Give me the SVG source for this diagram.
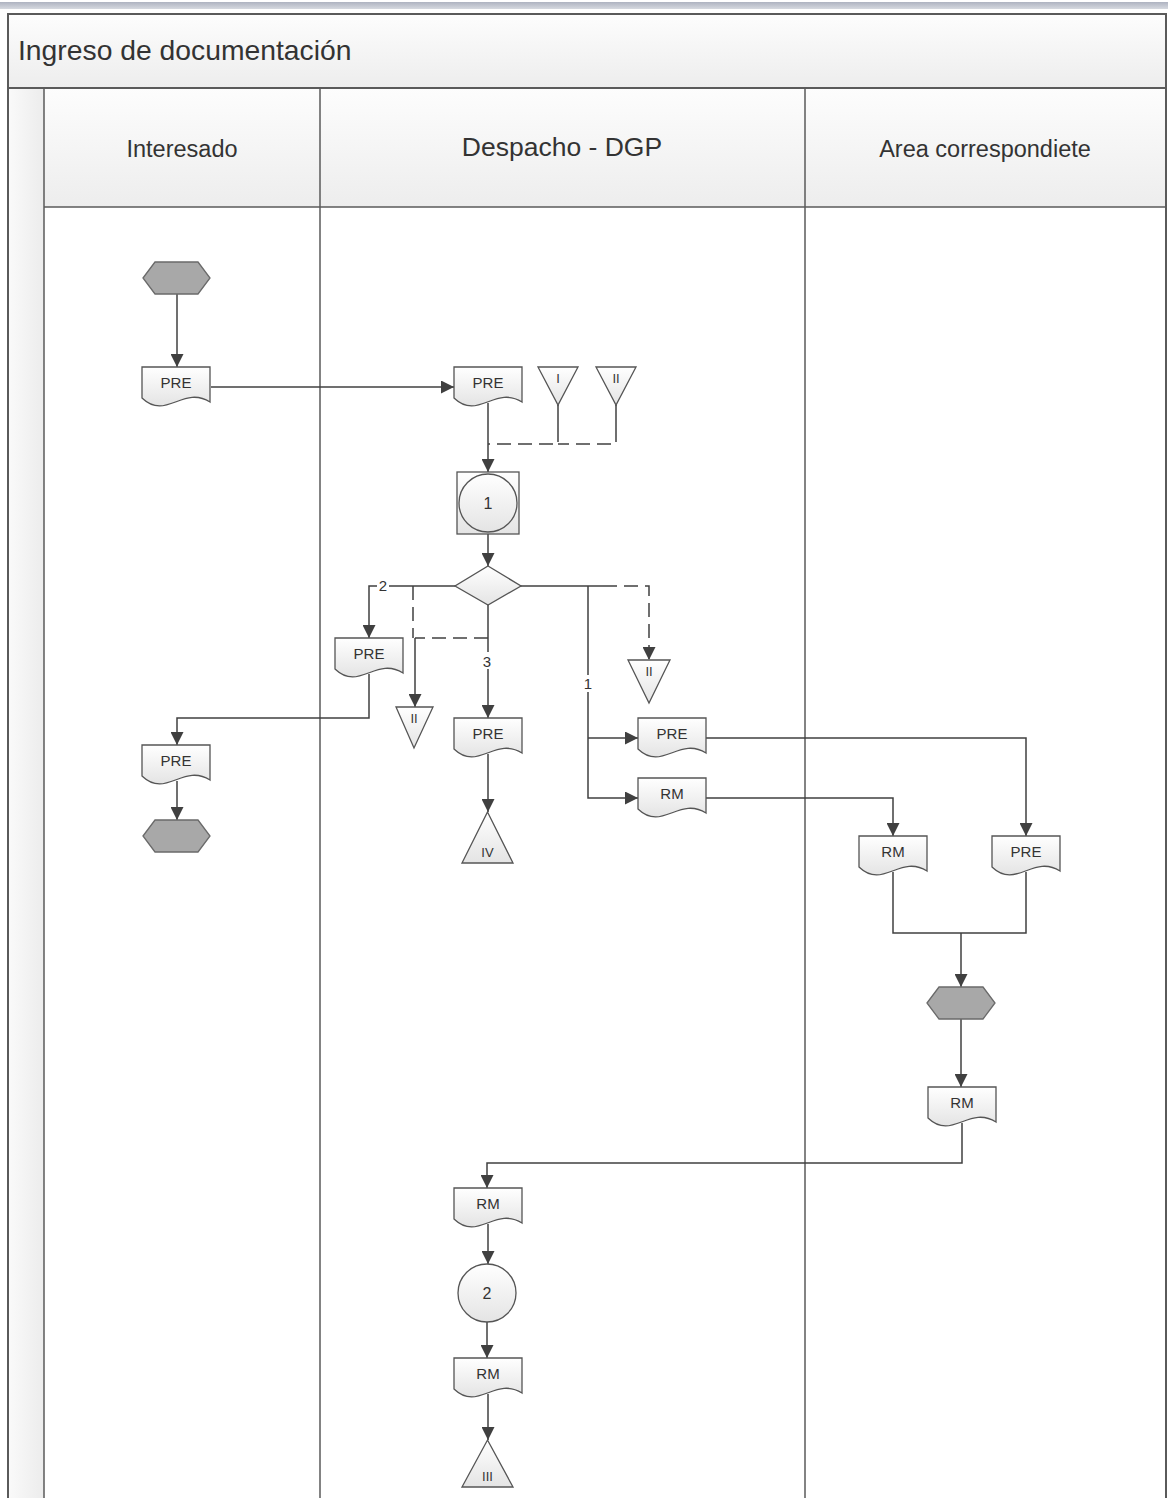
<svg xmlns="http://www.w3.org/2000/svg" xmlns:xlink="http://www.w3.org/1999/xlink" width="1168" height="1498" viewBox="0 0 1168 1498">
<style>
.frame{fill:none;stroke:#5a5a5a;stroke-width:2}
.ln{fill:none;stroke:#5a5a5a;stroke-width:1.5}
.c{fill:none;stroke:#404040;stroke-width:1.5}
.ca{fill:none;stroke:#404040;stroke-width:1.5;marker-end:url(#ah)}
.d{fill:none;stroke:#404040;stroke-width:1.5;stroke-dasharray:14,7}
.da{fill:none;stroke:#404040;stroke-width:1.5;stroke-dasharray:14,7;marker-end:url(#ah)}
.shape{fill:url(#gShape);stroke:#555;stroke-width:1.3}
.hex{fill:#a8a8a8;stroke:#6a6a6a;stroke-width:1.3}
.t{font-family:"Liberation Sans",Arial,sans-serif;fill:#333;text-anchor:middle}
.lbl{font-family:"Liberation Sans",Arial,sans-serif;fill:#333;text-anchor:middle;font-size:15px}
.doc{font-size:15px}
.tri{font-size:13px}
.bg{fill:#fff}
</style>
<defs>
<linearGradient id="gShape" x1="0" y1="0" x2="0" y2="1">
<stop offset="0" stop-color="#ffffff"/>
<stop offset="1" stop-color="#e4e4e4"/>
</linearGradient>
<linearGradient id="gHead" x1="0" y1="0" x2="0" y2="1">
<stop offset="0" stop-color="#fdfdfd"/>
<stop offset="1" stop-color="#ededed"/>
</linearGradient>
<linearGradient id="gStrip" x1="0" y1="0" x2="1" y2="0">
<stop offset="0" stop-color="#fafafa"/>
<stop offset="1" stop-color="#ececec"/>
</linearGradient>
<linearGradient id="gTop" x1="0" y1="0" x2="0" y2="1">
<stop offset="0" stop-color="#aeb3c0"/>
<stop offset="1" stop-color="#d6d9e0"/>
</linearGradient>
<marker id="ah" viewBox="0 0 12 12" refX="12" refY="6" markerWidth="13" markerHeight="13" markerUnits="userSpaceOnUse" orient="auto">
<path d="M0,0 L12,6 L0,12 Z" fill="#404040"/>
</marker>
<path id="docShape" d="M0,0 H68 V35 C41,18 24,54 0,31 Z"/>
</defs>

<rect x="0" y="0" width="1168" height="1498" fill="#ffffff"/>
<rect x="0" y="2" width="1168" height="7" fill="url(#gTop)"/>

<g id="pool">
<rect x="8" y="14" width="1158" height="74" fill="url(#gHead)"/>
<rect x="8" y="88" width="36" height="1412" fill="url(#gStrip)"/>
<rect x="44" y="88" width="1122" height="119" fill="url(#gHead)"/>
<rect x="8" y="14" width="1158" height="1490" class="frame"/>
<line x1="8" y1="88" x2="1166" y2="88" class="frame"/>
<line x1="44" y1="88" x2="44" y2="1498" class="ln"/>
<line x1="44" y1="207" x2="1166" y2="207" class="ln"/>
<line x1="320" y1="88" x2="320" y2="1498" class="ln"/>
<line x1="805" y1="88" x2="805" y2="1498" class="ln"/>
<text x="18" y="60" style="font-family:'Liberation Sans',Arial,sans-serif;font-size:28.3px;fill:#333">Ingreso de documentación</text>
<text class="t" x="182" y="157" font-size="23.5">Interesado</text>
<text class="t" x="562" y="156" font-size="26.5">Despacho - DGP</text>
<text class="t" x="985" y="157" font-size="23.5">Area correspondiete</text>
</g>

<g id="connectors">
<path class="ca" d="M177,294 V367"/>
<path class="ca" d="M211,387 H454"/>
<path class="ca" d="M488,403 V472"/>
<path class="d" d="M558,428 V444 H488"/>
<path class="d" d="M616,428 V444 H558"/>
<path class="ca" d="M488,534 V566"/>
<path class="ca" d="M455,586 H369 V638"/>
<path class="d" d="M413,586 V638"/>
<path class="d" d="M488,638 H415"/>
<path class="ca" d="M415,638 V707"/>
<path class="ca" d="M488,605 V718"/>
<path class="c" d="M520,586 H603"/>
<path class="da" d="M603,586 H649 V660"/>
<path class="ca" d="M588,586 V798 H638"/>
<path class="ca" d="M588,738 H638"/>
<path class="ca" d="M369,674 V718 H177 V745"/>
<path class="ca" d="M177,781 V820"/>
<path class="ca" d="M488,754 V812"/>
<path class="ca" d="M706,738 H1026 V836"/>
<path class="ca" d="M706,798 H893 V836"/>
<path class="c" d="M893,872 V933 H1026 V872"/>
<path class="ca" d="M961,933 V987"/>
<path class="ca" d="M961,1019 V1087"/>
<path class="ca" d="M962,1123 V1163 H487 V1188"/>
<path class="ca" d="M488,1224 V1264"/>
<path class="ca" d="M487,1322 V1358"/>
<path class="ca" d="M488,1394 V1440"/>
<rect class="bg" x="377" y="578" width="12" height="16"/>
<text class="lbl" x="383" y="591">2</text>
<rect class="bg" x="481" y="652" width="12" height="17"/>
<text class="lbl" x="487" y="667">3</text>
<rect class="bg" x="582" y="675" width="12" height="17"/>
<text class="lbl" x="588" y="689">1</text>
</g>

<g id="start">
<polygon class="hex" points="143,278 155,262 198,262 210,278 198,294 155,294"/>
</g>
<g id="doc-pre-1">
<use href="#docShape" x="142" y="367" class="shape"/>
<text class="t doc" x="176" y="388">PRE</text>
</g>
<g id="doc-pre-2">
<use href="#docShape" x="454" y="367" class="shape"/>
<text class="t doc" x="488" y="388">PRE</text>
</g>
<g id="tri-I">
<polygon class="shape" points="538,367 578,367 558,405"/>
<line class="c" x1="558" y1="405" x2="558" y2="428"/>
<text class="t tri" x="558" y="383">I</text>
</g>
<g id="tri-II-top">
<polygon class="shape" points="596,367 636,367 616,405"/>
<line class="c" x1="616" y1="405" x2="616" y2="428"/>
<text class="t tri" x="616" y="383">II</text>
</g>
<g id="op-1">
<rect class="shape" x="457" y="472" width="62" height="62"/>
<circle class="shape" cx="488" cy="503" r="29"/>
<text class="t" x="488" y="509" font-size="16">1</text>
</g>
<g id="decision">
<polygon class="shape" points="488,566 521,586 488,605 455,586"/>
</g>
<g id="doc-pre-3">
<use href="#docShape" x="335" y="638" class="shape"/>
<text class="t doc" x="369" y="659">PRE</text>
</g>
<g id="tri-II-left">
<polygon class="shape" points="396,707 433,707 414,748"/>
<text class="t tri" x="414" y="723">II</text>
</g>
<g id="tri-II-right">
<polygon class="shape" points="628,660 670,660 649,703"/>
<text class="t tri" x="649" y="676">II</text>
</g>
<g id="doc-pre-4">
<use href="#docShape" x="454" y="718" class="shape"/>
<text class="t doc" x="488" y="739">PRE</text>
</g>
<g id="tri-IV">
<polygon class="shape" points="487.5,812 513,863 462,863"/>
<text class="t tri" x="487.5" y="857">IV</text>
</g>
<g id="doc-pre-5">
<use href="#docShape" x="638" y="718" class="shape"/>
<text class="t doc" x="672" y="739">PRE</text>
</g>
<g id="doc-rm-1">
<use href="#docShape" x="638" y="778" class="shape"/>
<text class="t doc" x="672" y="799">RM</text>
</g>
<g id="doc-pre-6">
<use href="#docShape" x="142" y="745" class="shape"/>
<text class="t doc" x="176" y="766">PRE</text>
</g>
<g id="end-1">
<polygon class="hex" points="143,836 155,820 198,820 210,836 198,852 155,852"/>
</g>
<g id="doc-rm-2">
<use href="#docShape" x="859" y="836" class="shape"/>
<text class="t doc" x="893" y="857">RM</text>
</g>
<g id="doc-pre-7">
<use href="#docShape" x="992" y="836" class="shape"/>
<text class="t doc" x="1026" y="857">PRE</text>
</g>
<g id="hex-area">
<polygon class="hex" points="927,1003 939,987 983,987 995,1003 983,1019 939,1019"/>
</g>
<g id="doc-rm-3">
<use href="#docShape" x="928" y="1087" class="shape"/>
<text class="t doc" x="962" y="1108">RM</text>
</g>
<g id="doc-rm-4">
<use href="#docShape" x="454" y="1188" class="shape"/>
<text class="t doc" x="488" y="1209">RM</text>
</g>
<g id="op-2">
<circle class="shape" cx="487" cy="1293" r="29"/>
<text class="t" x="487" y="1299" font-size="16">2</text>
</g>
<g id="doc-rm-5">
<use href="#docShape" x="454" y="1358" class="shape"/>
<text class="t doc" x="488" y="1379">RM</text>
</g>
<g id="tri-III">
<polygon class="shape" points="487.5,1440 513,1487 462,1487"/>
<text class="t tri" x="487.5" y="1481">III</text>
</g>
</svg>
